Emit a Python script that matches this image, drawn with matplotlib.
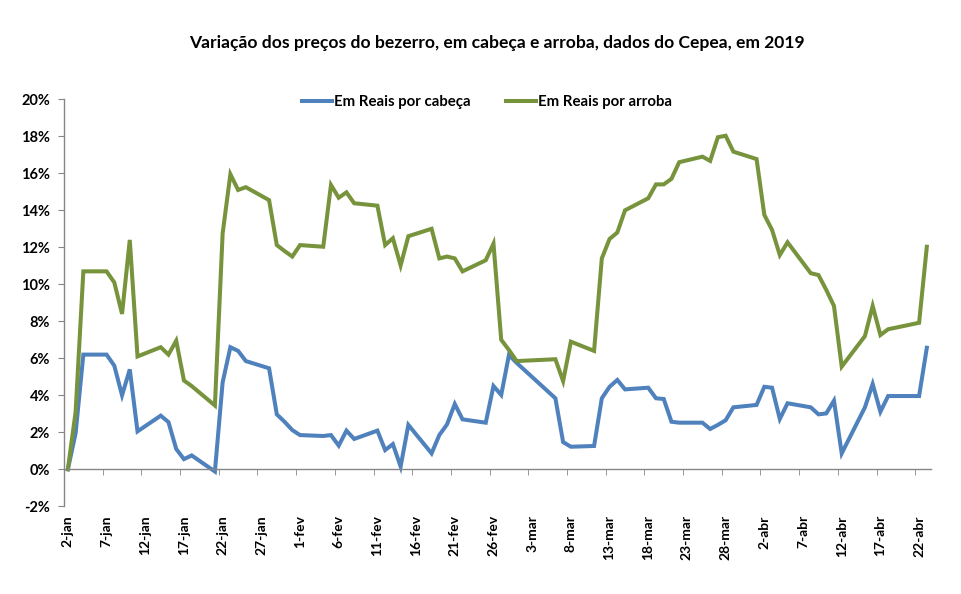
import matplotlib
matplotlib.use("Agg")
import matplotlib.pyplot as plt
import pandas as pd
import numpy as np

dates = ["2019-01-02","2019-01-03","2019-01-04","2019-01-07","2019-01-08","2019-01-09","2019-01-10","2019-01-11",
         "2019-01-14","2019-01-15","2019-01-16","2019-01-17","2019-01-18","2019-01-21","2019-01-22","2019-01-23",
         "2019-01-24","2019-01-25","2019-01-28","2019-01-29","2019-01-30","2019-01-31","2019-02-01",
         "2019-02-04","2019-02-05","2019-02-06","2019-02-07","2019-02-08","2019-02-11","2019-02-12","2019-02-13",
         "2019-02-14","2019-02-15","2019-02-18","2019-02-19","2019-02-20","2019-02-21","2019-02-22",
         "2019-02-25","2019-02-26","2019-02-27","2019-02-28","2019-03-01","2019-03-06","2019-03-07","2019-03-08",
         "2019-03-11","2019-03-12","2019-03-13","2019-03-14","2019-03-15","2019-03-18","2019-03-19","2019-03-20",
         "2019-03-21","2019-03-22","2019-03-25","2019-03-26","2019-03-27","2019-03-28","2019-03-29",
         "2019-04-01","2019-04-02","2019-04-03","2019-04-04","2019-04-05","2019-04-08","2019-04-09","2019-04-10",
         "2019-04-11","2019-04-12","2019-04-15","2019-04-16","2019-04-17","2019-04-18","2019-04-22","2019-04-23"]

por_cabeca = [0.0, 1.95, 6.2, 6.2, 5.6, 4.0, 5.4, 2.05,
              2.9, 2.55, 1.1, 0.55, 0.75, -0.12, 4.7, 6.6,
              6.4, 5.85, 5.46, 2.97, 2.57, 2.12, 1.85,
              1.8, 1.85, 1.28, 2.09, 1.64, 2.09, 1.04, 1.36,
              0.15, 2.4, 0.86, 1.85, 2.43, 3.53, 2.7,
              2.52, 4.5, 4.02, 6.18, 5.75, 3.84, 1.47, 1.22,
              1.26, 3.84, 4.46, 4.83, 4.32, 4.41, 3.84, 3.8,
              2.57, 2.52, 2.52, 2.18, 2.4, 2.65, 3.35,
              3.48, 4.46, 4.41, 2.72, 3.57, 3.35, 2.97, 3.02,
              3.71, 0.86, 3.35, 4.61, 3.11, 3.96, 3.96, 6.57]

por_arroba = [0.0, 3.1, 10.7, 10.7, 10.1, 8.4, 12.4, 6.1,
              6.6, 6.2, 6.95, 4.8, 4.5, 3.45, 12.75, 15.95,
              15.1, 15.25, 14.55, 12.12, 11.8, 11.5, 12.12,
              12.03, 15.37, 14.68, 14.97, 14.38, 14.25, 12.12, 12.49,
              11.02, 12.6, 13.0, 11.4, 11.5, 11.4, 10.7,
              11.3, 12.2, 7.0, 6.45, 5.85, 5.95, 4.77, 6.9,
              6.4, 11.4, 12.45, 12.8, 14.0, 14.65, 15.4, 15.4,
              15.7, 16.6, 16.9, 16.67, 17.95, 18.03, 17.17,
              16.77, 13.75, 12.94, 11.58, 12.27, 10.6, 10.5, 9.7,
              8.83, 5.55, 7.2, 8.83, 7.26, 7.57, 7.92, 12.03]

tick_labels = ["2-jan","7-jan","12-jan","17-jan","22-jan","27-jan","1-fev","6-fev","11-fev","16-fev",
               "21-fev","26-fev","3-mar","8-mar","13-mar","18-mar","23-mar","28-mar","2-abr","7-abr",
               "12-abr","17-abr","22-abr"]

title = "Variação dos preços do bezerro, em cabeça e arroba, dados do Cepea, em 2019"
series_names = ["Em Reais por cabeça", "Em Reais por arroba"]
colors = ["#4F81BD", "#77933C"]

plt.rcParams['font.family'] = ['Lato', 'DejaVu Sans']

d = pd.to_datetime(dates)
x = np.array((d - d[0]).days, dtype=float)
last_day = x.max()

fig = plt.figure(figsize=(9.61, 5.94), dpi=100)
ax = fig.add_axes([64/961, 1-506.3/594, (930.7-64)/961, (506.3-99.3)/594])

ax.plot(x, por_cabeca, color=colors[0], lw=2.9, label=series_names[0], solid_joinstyle='miter')
ax.plot(x, por_arroba, color=colors[1], lw=2.9, label=series_names[1], solid_joinstyle='miter')

ax.set_xlim(-0.5, last_day + 0.5)
ax.set_ylim(-2, 20)

for s in ['top', 'right']:
    ax.spines[s].set_visible(False)
ax.spines['bottom'].set_position(('data', 0))
for s in ['left', 'bottom']:
    ax.spines[s].set_color('#868686')
    ax.spines[s].set_linewidth(1.0)

yt = np.arange(-2, 21, 2)
ax.set_yticks(yt)
ax.set_yticklabels([f"{v}%" for v in yt], fontsize=10.5, fontweight='bold')
ax.tick_params(axis='y', length=4, color='#868686', pad=6)

major = np.arange(0, last_day + 1, 5)
ax.set_xticks(major)
ax.set_xticklabels(tick_labels, rotation=90, fontsize=10, fontweight='bold')
ax.set_xticks(np.arange(-0.5, last_day, 5), minor=True)
ax.tick_params(axis='x', which='major', length=0, pad=33)
ax.tick_params(axis='x', which='minor', length=4, color='#868686', direction='out')

leg = ax.legend(loc='center', bbox_to_anchor=(0.488, 0.993), ncol=2, frameon=False,
                handlelength=2.0, handletextpad=0.1, columnspacing=2.4,
                prop={'weight': 'bold', 'size': 10.8})

fig.text(497/961, 1-43/594, title, ha='center', va='center', fontsize=12.6, fontweight='bold')

fig.savefig("out.png", dpi=100)
